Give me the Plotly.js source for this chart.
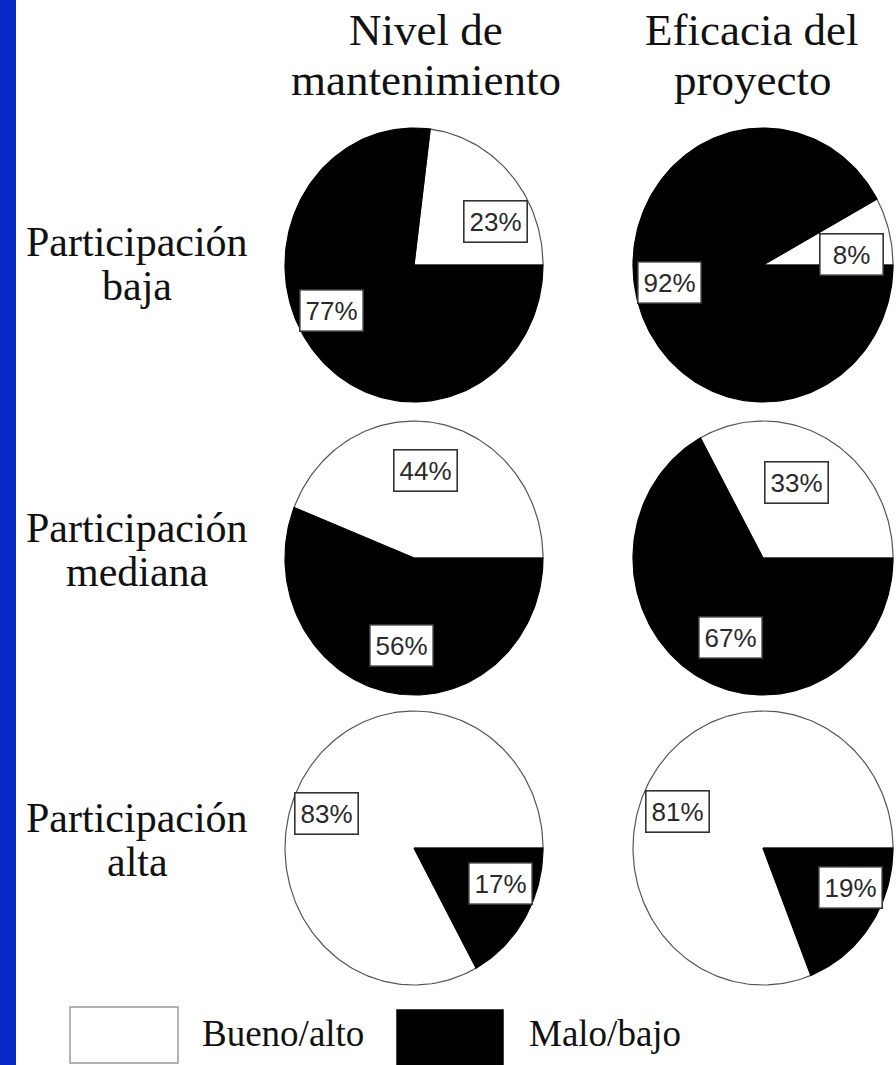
<!DOCTYPE html>
<html>
<head>
<meta charset="utf-8">
<script src="https://cdn.plot.ly/plotly-3.0.1.min.js"></script>
<style>html,body{margin:0;padding:0;background:#fff;}#chart{width:896px;height:1065px;}</style>
</head>
<body>
<div id="chart"></div>
<script>
// ---- data ----
const columnTitles = [["Nivel de", "mantenimiento"], ["Eficacia del", "proyecto"]];
const rowLabels = [["Participación", "baja"], ["Participación", "mediana"], ["Participación", "alta"]];
const seriesNames = ["Bueno/alto", "Malo/bajo"];
// percentages per row (baja, mediana, alta)
const mantenimientoBueno = [23, 44, 83];
const mantenimientoMalo  = [77, 56, 17];
const eficaciaBueno      = [8, 33, 81];
const eficaciaMalo       = [92, 67, 19];

// ---- layout / style (not data) ----
const W = 896, H = 1065;
const colCx = [414, 763], colRx = [129, 130];
const rowCy = [265, 558, 848], rowRy = 137;
// label box positions in each pie's own axis units: [bueno, malo]
const labelPos = [
  [[[0.63, 0.32], [-0.64, -0.33]], [[0.68, 0.08], [-0.72, -0.13]]],
  [[[0.09, 0.64], [-0.10, -0.64]], [[0.26, 0.55], [-0.25, -0.58]]],
  [[[-0.68, 0.25], [0.67, -0.26]], [[-0.66, 0.27], [0.67, -0.29]]]
];
const fillColors = ["#ffffff", "#000000"];
const lineColors = ["#555555", "#000000"];
const serif = "Liberation Serif, Times New Roman, DejaVu Serif, serif";
const sans = "Liberation Sans Narrow, Arial Narrow, Liberation Sans, Arial, sans-serif";

const columns = [[mantenimientoBueno, mantenimientoMalo], [eficaciaBueno, eficaciaMalo]];

function arc(startFrac, endFrac) {
  const xs = [0], ys = [0];
  const a0 = 2 * Math.PI * startFrac, a1 = 2 * Math.PI * endFrac;
  const n = Math.max(8, Math.round(240 * (endFrac - startFrac)));
  for (let i = 0; i <= n; i++) {
    const a = a0 + (a1 - a0) * i / n;
    xs.push(Math.cos(a)); ys.push(Math.sin(a));
  }
  xs.push(0); ys.push(0);
  return {xs, ys};
}

const traces = [];
const layout = {
  width: W, height: H,
  margin: {l: 0, r: 0, t: 0, b: 0},
  paper_bgcolor: "#ffffff", plot_bgcolor: "rgba(0,0,0,0)",
  showlegend: false,
  annotations: [], shapes: []
};

let k = 0;
for (let r = 0; r < 3; r++) {
  for (let c = 0; c < 2; c++) {
    k++;
    const xid = "x" + (k > 1 ? k : ""), yid = "y" + (k > 1 ? k : "");
    const xa = "xaxis" + (k > 1 ? k : ""), ya = "yaxis" + (k > 1 ? k : "");
    const pad = 1.01;
    const cx = colCx[c], rx = colRx[c] * pad, cy = rowCy[r], ry = rowRy * pad;
    layout[xa] = {domain: [(cx - rx) / W, (cx + rx) / W], range: [-pad, pad], visible: false, fixedrange: true, anchor: yid};
    layout[ya] = {domain: [1 - (cy + ry) / H, 1 - (cy - ry) / H], range: [-pad, pad], visible: false, fixedrange: true, anchor: xid};
    const vals = [columns[c][0][r], columns[c][1][r]];
    const total = vals[0] + vals[1];
    let start = 0;
    for (let s = 0; s < 2; s++) {
      const frac = vals[s] / total;
      const p = arc(start, start + frac);
      start += frac;
      traces.push({
        type: "scatter", mode: "lines", x: p.xs, y: p.ys,
        xaxis: xid, yaxis: yid, fill: "toself",
        fillcolor: fillColors[s],
        line: {color: lineColors[s], width: 1.2},
        name: seriesNames[s], hoverinfo: "name+text", text: vals[s] + "%"
      });
    }
    for (let s = 0; s < 2; s++) {
      const lp = labelPos[r][c][s];
      layout.annotations.push({
        xref: xid, yref: yid, x: lp[0], y: lp[1],
        text: vals[s] + "%", showarrow: false,
        font: {family: sans, size: 26, color: "#2a2a2a"},
        bgcolor: "#ffffff", bordercolor: "#333333", borderwidth: 1.6,
        borderpad: 2, width: 58, height: 36,
        xanchor: "center", yanchor: "middle"
      });
    }
  }
}

// column titles
const colTitleX = [426, 752];
const titleLineY = [30, 80];
columnTitles.forEach((lines, c) => {
  lines.forEach((t, i) => {
    layout.annotations.push({
      xref: "paper", yref: "paper", x: colTitleX[c] / W, y: 1 - titleLineY[i] / H,
      text: t, showarrow: false, xanchor: "center", yanchor: "middle",
      font: {family: serif, size: 45, color: "#111111"}
    });
  });
});

// row labels (two lines each)
const rowLabelX = 137;
const rowLabelY = [[242, 286], [528, 572], [818, 862]];
rowLabels.forEach((lines, r) => {
  lines.forEach((t, i) => {
    layout.annotations.push({
      xref: "paper", yref: "paper", x: rowLabelX / W, y: 1 - rowLabelY[r][i] / H,
      text: t, showarrow: false, xanchor: "center", yanchor: "middle",
      font: {family: serif, size: 42, color: "#111111"}
    });
  });
});

// legend
const legendBoxes = [[70, 178, 1007, 1063], [397, 503, 1010, 1066]];
const legendTextX = [200, 527];
seriesNames.forEach((nm, s) => {
  const b = legendBoxes[s];
  layout.shapes.push({
    type: "rect", xref: "paper", yref: "paper",
    x0: b[0] / W, x1: b[1] / W, y0: 1 - b[3] / H, y1: 1 - b[2] / H,
    fillcolor: fillColors[s], line: {color: s === 0 ? "#999999" : "#000000", width: 1.5}
  });
  layout.annotations.push({
    xref: "paper", yref: "paper", x: legendTextX[s] / W, y: 1 - 1033 / H,
    text: nm, showarrow: false, xanchor: "left", yanchor: "middle",
    font: {family: serif, size: 37, color: "#111111"}
  });
});

// blue side strip
layout.shapes.push({
  type: "rect", xref: "paper", yref: "paper", x0: 0, x1: 16 / W, y0: 0, y1: 1,
  fillcolor: "#0a2ac8", line: {width: 0}, layer: "below"
});

Plotly.newPlot("chart", traces, layout, {displayModeBar: false, staticPlot: true});
</script>
</body>
</html>
